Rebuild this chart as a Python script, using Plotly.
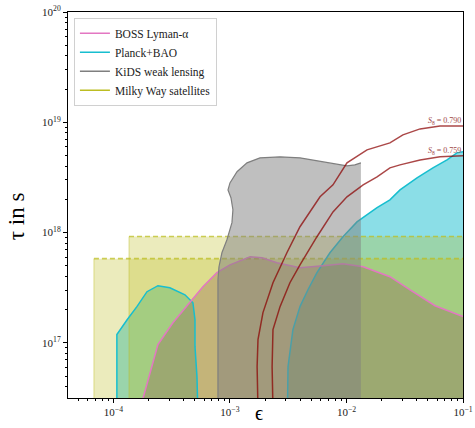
import plotly.graph_objects as go

# ---------------- data ----------------
# Planck+BAO, left island
planck_a_eps = [1.07e-4, 1.07e-4, 1.07e-4, 1.31e-4, 1.59e-4, 1.94e-4, 2.41e-4, 3.05e-4,
                4.11e-4, 4.81e-4, 5.01e-4, 5.01e-4, 5.21e-4, 5.42e-4]
planck_a_tau = [1e16, 6.08e16, 1.19e17, 1.62e17, 2.13e17, 2.91e17, 3.30e17, 3.16e17,
                2.73e17, 2.31e17, 1.62e17, 9.24e16, 4.94e16, 1e16]
# Planck+BAO, right region
planck_b_eps = [3.08e-3, 3.15e-3, 3.47e-3, 3.99e-3, 4.67e-3, 5.58e-3, 7.21e-3, 9.33e-3,
                1.23e-2, 1.83e-2, 2.36e-2, 2.88e-2, 4.03e-2, 5.52e-2, 7.29e-2, 8.87e-2, 0.1]
planck_b_tau = [1e16, 6.08e16, 1.32e17, 2.13e17, 3.03e17, 4.33e17, 6.56e17, 9.17e17,
                1.25e18, 1.68e18, 1.98e18, 2.44e18, 3.13e18, 3.86e18, 4.56e18, 5.28e18, 5.40e18]

# BOSS Lyman-alpha contour
boss_eps = [1.69e-4, 2.06e-4, 2.41e-4, 3.24e-4, 4.54e-4, 5.86e-4, 7.73e-4, 1.00e-3,
            1.49e-3, 1.88e-3, 2.53e-3, 3.99e-3, 6.28e-3, 9.33e-3, 1.39e-2, 1.83e-2,
            2.36e-2, 3.51e-2, 5.75e-2, 0.1]
boss_tau = [2.5e16, 5.37e16, 9.64e16, 1.52e17, 2.36e17, 3.23e17, 4.33e17, 5.10e17,
            6.04e17, 5.92e17, 5.33e17, 4.80e17, 5.00e17, 5.21e17, 4.90e17, 4.42e17,
            3.98e17, 3.03e17, 2.17e17, 1.73e17]

# KiDS weak lensing region (left/top outline, right edge at last epsilon)
kids_eps = [7.89e-4, 7.89e-4, 8.05e-4, 8.53e-4, 9.42e-4, 1.04e-3, 1.06e-3, 1.02e-3,
            9.62e-4, 1.00e-3, 1.15e-3, 1.40e-3, 1.81e-3, 2.69e-3, 3.99e-3, 5.58e-3,
            7.66e-3, 1.01e-2, 1.18e-2, 1.33e-2]
kids_tau = [1e16, 3.73e17, 4.90e17, 6.56e17, 8.61e17, 1.23e18, 1.61e18, 2.07e18,
            2.44e18, 2.82e18, 3.56e18, 4.29e18, 4.76e18, 4.86e18, 4.76e18, 4.47e18,
            4.20e18, 4.03e18, 4.11e18, 4.29e18]

# Milky Way satellites bounds (lower epsilon limit, upper tau limit)
mw_eps_min = [6.8e-5, 1.36e-4]
mw_tau_max = [5.8e17, 9.2e17]
eps_max = 0.1
tau_floor = 1e16

# S8 curves
s8_labels = ["0.790", "0.759"]
s8_a_eps = [1.74e-3, 1.71e-3, 1.74e-3, 1.92e-3, 2.34e-3, 3.08e-3, 3.99e-3, 5.93e-3,
            7.66e-3, 1.01e-2, 1.50e-2, 2.36e-2, 3.05e-2, 4.28e-2, 6.35e-2, 0.1]
s8_a_tau = [2.5e16, 6.08e16, 1.07e17, 1.88e17, 3.51e17, 6.56e17, 1.13e18, 2.11e18,
            2.71e18, 4.29e18, 5.62e18, 6.50e18, 7.69e18, 8.71e18, 9.27e18, 9.27e18]
s8_b_eps = [2.34e-3, 2.30e-3, 2.34e-3, 2.69e-3, 3.27e-3, 3.99e-3, 5.58e-3, 7.66e-3,
            1.01e-2, 1.39e-2, 1.83e-2, 2.36e-2, 2.88e-2, 4.28e-2, 6.35e-2, 0.1]
s8_b_tau = [2.5e16, 6.08e16, 1.32e17, 2.13e17, 3.51e17, 5.10e17, 9.17e17, 1.54e18,
            2.11e18, 2.71e18, 3.20e18, 3.86e18, 4.11e18, 4.56e18, 4.86e18, 4.96e18]
s8_label_logtau = [19.01, 18.74]

# tick labels
x_tick_vals = [1e-4, 1e-3, 1e-2, 1e-1]
x_tick_text = ["10<sup>−4</sup>", "10<sup>−3</sup>", "10<sup>−2</sup>", "10<sup>−1</sup>"]
y_tick_vals = [1e17, 1e18, 1e19, 1e20]
y_tick_text = ["10<sup>17</sup>", "10<sup>18</sup>", "10<sup>19</sup>", "10<sup>20</sup>"]

legend_names = ["BOSS Lyman-α", "Planck+BAO", "KiDS weak lensing", "Milky Way satellites"]

# ---------------- styles ----------------
PINK = "#e377c2"
CYAN = "#17becf"
GRAY = "#7f7f7f"
OLIVE = "#bcbd22"
SERIF = "Liberation Serif"

fig = go.Figure()

# Planck fills
fig.add_trace(go.Scatter(x=planck_a_eps, y=planck_a_tau, fill="toself", mode="none",
                         fillcolor="rgba(23,190,207,0.5)", showlegend=False, hoverinfo="skip"))
fig.add_trace(go.Scatter(x=planck_b_eps + [eps_max], y=planck_b_tau + [tau_floor], fill="toself",
                         mode="none", fillcolor="rgba(23,190,207,0.5)", showlegend=False,
                         hoverinfo="skip"))

# Milky Way satellite boxes
for e0, t1 in zip(mw_eps_min, mw_tau_max):
    fig.add_trace(go.Scatter(x=[e0, e0, eps_max, eps_max], y=[tau_floor, t1, t1, tau_floor],
                             fill="toself", mode="none", fillcolor="rgba(188,189,34,0.3)",
                             showlegend=False, hoverinfo="skip"))
    fig.add_trace(go.Scatter(x=[e0, e0], y=[tau_floor, t1], mode="lines",
                             line=dict(color="rgba(188,189,34,0.45)", width=1),
                             showlegend=False, hoverinfo="skip"))
    fig.add_trace(go.Scatter(x=[e0, eps_max], y=[t1, t1], mode="lines",
                             line=dict(color="rgba(188,189,34,0.75)", width=1.6, dash="5px,3px"),
                             showlegend=False, hoverinfo="skip"))

# BOSS fill
fig.add_trace(go.Scatter(x=boss_eps + [eps_max, boss_eps[0]],
                         y=boss_tau + [tau_floor, tau_floor], fill="toself", mode="none",
                         fillcolor="rgba(140,86,75,0.3)", showlegend=False, hoverinfo="skip"))

# Planck outlines
fig.add_trace(go.Scatter(x=planck_a_eps, y=planck_a_tau, mode="lines",
                         line=dict(color=CYAN, width=1.5), showlegend=False, hoverinfo="skip"))
fig.add_trace(go.Scatter(x=planck_b_eps, y=planck_b_tau, mode="lines",
                         line=dict(color=CYAN, width=1.5), showlegend=False, hoverinfo="skip"))
# BOSS outline
fig.add_trace(go.Scatter(x=boss_eps, y=boss_tau, mode="lines",
                         line=dict(color=PINK, width=1.5), showlegend=False, hoverinfo="skip"))

# KiDS
fig.add_trace(go.Scatter(x=kids_eps + [kids_eps[-1]], y=kids_tau + [tau_floor], fill="toself",
                         mode="none", fillcolor="rgba(127,127,127,0.5)", showlegend=False,
                         hoverinfo="skip"))
fig.add_trace(go.Scatter(x=kids_eps, y=kids_tau, mode="lines",
                         line=dict(color=GRAY, width=1.2), showlegend=False, hoverinfo="skip"))

# S8 curves
for ex, ty in ((s8_a_eps, s8_a_tau), (s8_b_eps, s8_b_tau)):
    fig.add_trace(go.Scatter(x=ex, y=ty, mode="lines",
                             line=dict(color="rgba(139,0,0,0.72)", width=1.5),
                             showlegend=False, hoverinfo="skip"))

# legend proxies
for name, col in zip(legend_names, [PINK, CYAN, GRAY, OLIVE]):
    fig.add_trace(go.Scatter(x=[None], y=[None], mode="lines", name=name,
                             line=dict(color=col, width=1.5)))

annotations = []
for lab, ly in zip(s8_labels, s8_label_logtau):
    annotations.append(dict(xref="paper", x=1.0, yref="y", y=ly, xanchor="right",
                            yanchor="middle", showarrow=False,
                            text="<i>S</i><sub>8</sub> = " + lab,
                            font=dict(family=SERIF, size=8, color="#a04848")))
annotations.append(dict(xref="paper", x=-0.13, yref="paper", y=0.47, textangle=-90,
                        xanchor="center", showarrow=False, text="τ in s",
                        font=dict(family=SERIF, size=23, color="black")))
annotations.append(dict(xref="paper", x=0.484, yref="paper", y=-0.038, yanchor="middle",
                        showarrow=False, text="ϵ",
                        font=dict(family=SERIF, size=20, color="black")))

minor_x = [m * 10.0 ** e for e in range(-5, -1) for m in range(2, 10)]
minor_y = [m * 10.0 ** e for e in range(16, 20) for m in range(2, 10)]

fig.update_layout(
    width=475, height=428,
    margin=dict(l=68, r=12, t=12, b=30),
    plot_bgcolor="white", paper_bgcolor="white",
    showlegend=True,
    legend=dict(x=0.015, y=0.985, xanchor="left", yanchor="top",
                bgcolor="rgba(255,255,255,0.85)", bordercolor="#d0d0d0", borderwidth=1,
                font=dict(family=SERIF, size=11.5, color="#222"), tracegroupgap=0,
                itemwidth=30),
    annotations=annotations,
    font=dict(family=SERIF),
)
fig.update_xaxes(type="log", range=[-4.39, -1], tickmode="array", tickvals=x_tick_vals,
                 ticktext=x_tick_text, automargin=False,
                 showgrid=False, zeroline=False, showline=True, linecolor="black", linewidth=1,
                 mirror=True, ticks="outside", ticklen=4, tickcolor="black",
                 tickfont=dict(family=SERIF, size=11, color="#222"),
                 minor=dict(tickvals=minor_x, ticks="outside", ticklen=2, tickcolor="black",
                            showgrid=False))
fig.update_yaxes(type="log", range=[16.5, 20], tickmode="array", tickvals=y_tick_vals,
                 ticktext=y_tick_text, automargin=False,
                 showgrid=False, zeroline=False, showline=True, linecolor="black", linewidth=1,
                 mirror=True, ticks="outside", ticklen=4, tickcolor="black",
                 tickfont=dict(family=SERIF, size=11, color="#222"),
                 minor=dict(tickvals=minor_y, ticks="outside", ticklen=2, tickcolor="black",
                            showgrid=False))

fig.write_html("out.html")
